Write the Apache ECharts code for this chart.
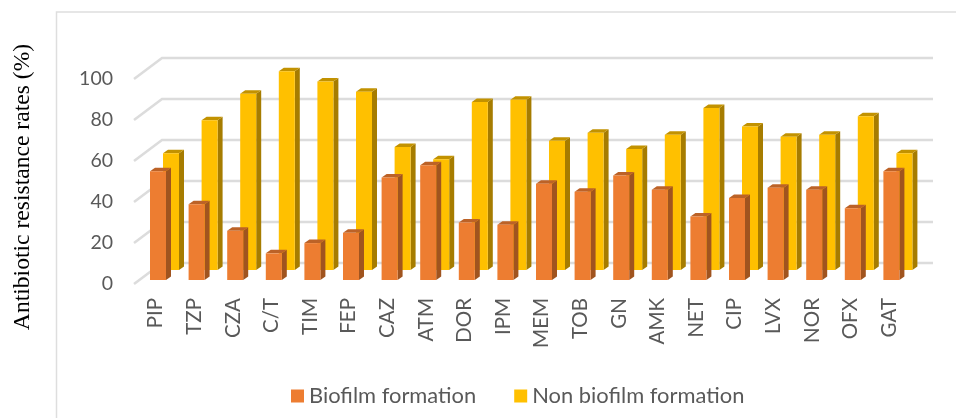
<!DOCTYPE html>
<html>
<head>
<meta charset="utf-8">
<style>html,body{margin:0;padding:0;background:#fff}#chart{width:956px;height:418px}</style>
<script src="https://cdn.jsdelivr.net/npm/echarts@6/dist/echarts.min.js"></script>
</head>
<body>
<div id="chart"></div>
<script>
// Antibiotic resistance by biofilm status
const categories = ['PIP','TZP','CZA','C/T','TIM','FEP','CAZ','ATM','DOR','IPM','MEM','TOB','GN','AMK','NET','CIP','LVX','NOR','OFX','GAT'];
const biofilm    = [53,37,24,13,18,23,50,56,28,27,47,43,51,44,31,40,45,44,35,53];
const nonBiofilm = [57,73,86,97,92,87,60,54,82,83,63,67,59,66,79,70,65,66,75,57];
const yTicks = [0,20,40,60,80,100];

// Oblique projection used to fake the 3D column look
const WALL_DX = 28, WALL_DY = 21;   // front plane to back wall
const PLANE_X = -2.5;               // front plane sits left of the category labels
const BAR_W = 16, SIDE_DX = 5, SIDE_DY = 3.5;

function columnRenderer(offsetX, offsetY, front, side, top) {
  return function (params, api) {
    const p = api.coord([api.value(0), api.value(1)]);
    const base = api.coord([api.value(0), 0]);
    const x0 = p[0] + PLANE_X + offsetX - BAR_W / 2, x1 = x0 + BAR_W;
    const yT = p[1] + offsetY, yB = base[1] + offsetY;
    return {
      type: 'group',
      children: [
        { type: 'polygon', shape: { points: [[x1, yT], [x1 + SIDE_DX, yT - SIDE_DY], [x1 + SIDE_DX, yB - SIDE_DY], [x1, yB]] }, style: { fill: side } },
        { type: 'polygon', shape: { points: [[x0, yT], [x0 + SIDE_DX, yT - SIDE_DY], [x1 + SIDE_DX, yT - SIDE_DY], [x1, yT]] }, style: { fill: top } },
        { type: 'rect', shape: { x: x0, y: yT, width: BAR_W, height: yB - yT }, style: { fill: front } }
      ]
    };
  };
}

function wallRenderer(params, api) {
  const y = api.coord([0, api.value(0)])[1];
  const left = params.coordSys.x + PLANE_X, right = left + params.coordSys.width;
  return {
    type: 'polyline',
    shape: { points: [[left, y], [left + WALL_DX, y - WALL_DY], [right + WALL_DX - 1, y - WALL_DY]] },
    style: { fill: 'none', stroke: '#dcdcdc', lineWidth: 2.5 }
  };
}

const chart = echarts.init(document.getElementById('chart'), null, { renderer: 'canvas' });
chart.setOption({
  animation: false,
  backgroundColor: '#ffffff',
  textStyle: { fontFamily: 'Lato' },
  grid: { left: 136.5, top: 79, width: 772, height: 205, containLabel: false },
  legend: {
    left: 286, top: 380,
    icon: 'rect', itemWidth: 13, itemHeight: 13, itemGap: 38,
    textStyle: { color: '#595959', fontSize: 21.9, fontFamily: 'Lato' },
    data: ['Biofilm formation', 'Non biofilm formation']
  },
  xAxis: {
    type: 'category',
    data: categories,
    axisLine: { show: false },
    axisTick: { show: false },
    axisLabel: { rotate: 90, interval: 0, margin: 14, color: '#595959', fontSize: 20.5 }
  },
  yAxis: {
    type: 'value',
    min: 0, max: 100, interval: 20,
    axisLine: { show: false },
    axisTick: { show: false },
    splitLine: { show: false },
    axisLabel: { margin: 23.5, color: '#595959', fontSize: 19.5 }
  },
  graphic: [
    { type: 'polyline', silent: true, z: -1, shape: { points: [[56.5, 418], [56.5, 12], [956, 12]] }, style: { fill: 'none', stroke: '#dedede', lineWidth: 1.5 } },
    { type: 'text', x: 23, y: 187, rotation: Math.PI / 2, style: { text: 'Antibiotic resistance rates (%)', fill: '#000000', font: '23.6px "Liberation Serif"', align: 'center', verticalAlign: 'middle' } }
  ],
  series: [
    { type: 'custom', name: 'wall', silent: true, z: 1, renderItem: wallRenderer, encode: { y: 0 }, data: yTicks.map(v => [v]) },
    {
      type: 'custom', name: 'Non biofilm formation', z: 2,
      itemStyle: { color: '#FFC000' },
      renderItem: columnRenderer(17.7, -14, '#FFC000', '#A67C00', '#C29200'),
      encode: { x: 0, y: 1 },
      data: categories.map((c, i) => [i, nonBiofilm[i]])
    },
    {
      type: 'custom', name: 'Biofilm formation', z: 3,
      itemStyle: { color: '#ED7D31' },
      renderItem: columnRenderer(4.7, -4, '#ED7D31', '#A0541F', '#BC6227'),
      encode: { x: 0, y: 1 },
      data: categories.map((c, i) => [i, biofilm[i]])
    }
  ]
});
</script>
</body>
</html>
